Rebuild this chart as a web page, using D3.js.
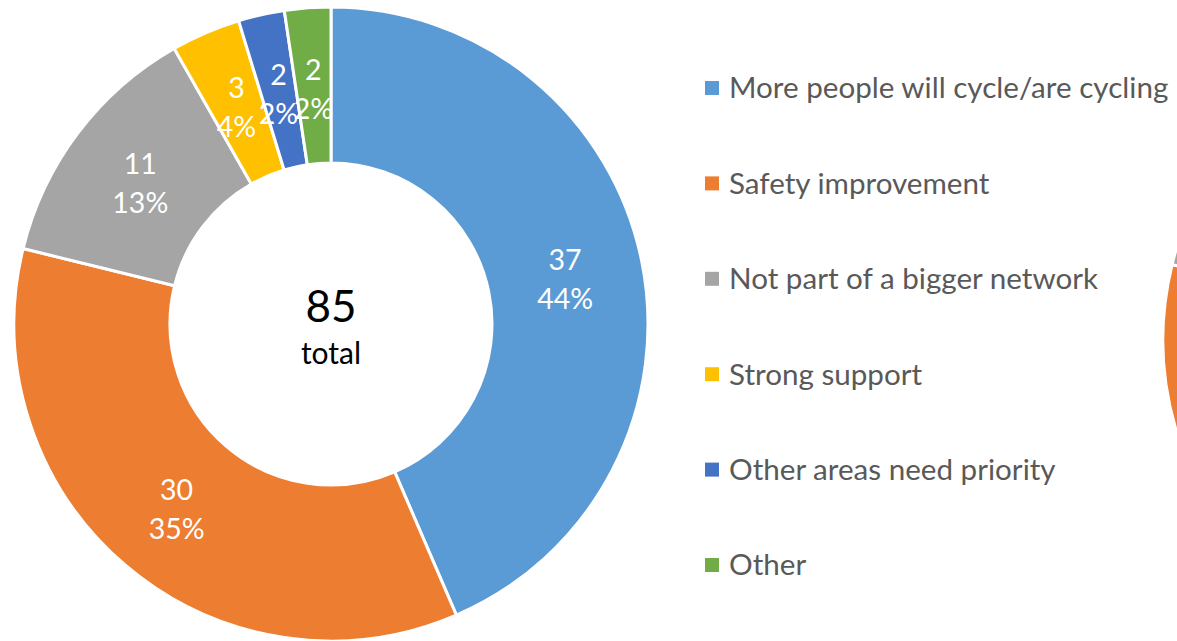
<!DOCTYPE html>
<html>
<head>
<meta charset="utf-8">
<script src="https://cdn.jsdelivr.net/npm/d3@7"></script>
<style>
  html, body { margin: 0; padding: 0; background: #fff; overflow: hidden; }
  svg { display: block; }
  text { font-family: Lato, "Open Sans", "Noto Sans", sans-serif; }
</style>
</head>
<body>
<svg id="chart" width="1177" height="641"></svg>
<script>
const categories = [
  "More people will cycle/are cycling",
  "Safety improvement",
  "Not part of a bigger network",
  "Strong support",
  "Other areas need priority",
  "Other"
];
const values = [37, 30, 11, 3, 2, 2];
const colors = ["#5B9BD5", "#ED7D31", "#A5A5A5", "#FFC000", "#4472C4", "#70AD47"];
const totalLabel = "total";

const W = 1177, H = 641;
const svg = d3.select("#chart");

const total = d3.sum(values);
const cx = 331, cy = 324;
const outerR = 317, innerR = 161;

const pie = d3.pie().sort(null).value(d => d.value);
const data = categories.map((c, i) => ({ category: c, value: values[i], color: colors[i] }));
const arcs = pie(data);
const arc = d3.arc().innerRadius(innerR).outerRadius(outerR);

// Partial second donut at the right edge (cut off by the frame)
const g2 = svg.append("g").attr("transform", `translate(1480,340)`);
g2.selectAll("path").data(arcs).join("path")
  .attr("d", arc)
  .attr("fill", d => d.data.color)
  .attr("stroke", "#fff")
  .attr("stroke-width", 3)
  .attr("stroke-linejoin", "round");

// Main donut
const g = svg.append("g").attr("transform", `translate(${cx},${cy})`);
g.selectAll("path").data(arcs).join("path")
  .attr("d", arc)
  .attr("fill", d => d.data.color)
  .attr("stroke", "#fff")
  .attr("stroke-width", 3)
  .attr("stroke-linejoin", "round");

// Data labels
const fmtPct = v => Math.round(v / total * 100) + "%";
const labels = g.selectAll("g.lbl").data(arcs).join("g")
  .attr("class", "lbl")
  .attr("transform", d => `translate(${arc.centroid(d)})`);
labels.append("text")
  .attr("text-anchor", "middle")
  .attr("y", -16)
  .attr("dy", "0.35em")
  .attr("fill", "#fff")
  .style("font-size", "28.5px")
  .text(d => d.data.value);
labels.append("text")
  .attr("text-anchor", "middle")
  .attr("y", 23)
  .attr("dy", "0.35em")
  .attr("fill", "#fff")
  .style("font-size", "28.5px")
  .text(d => fmtPct(d.data.value));

// Center total
g.append("text")
  .attr("text-anchor", "middle")
  .attr("y", -2)
  .attr("fill", "#000")
  .style("font-size", "44px")
  .text(total);
g.append("text")
  .attr("text-anchor", "middle")
  .attr("y", 40)
  .attr("fill", "#000")
  .style("font-size", "30px")
  .text(totalLabel);

// Legend
const legendY = d3.scalePoint().domain(categories).range([88, 565]);
const legend = svg.append("g").selectAll("g").data(data).join("g")
  .attr("transform", d => `translate(705,${legendY(d.category)})`);
legend.append("rect")
  .attr("x", 0).attr("y", -7)
  .attr("width", 14).attr("height", 14)
  .attr("fill", d => d.color);
legend.append("text")
  .attr("x", 24)
  .attr("dy", "0.35em")
  .attr("fill", "#595959")
  .style("font-size", "29.6px")
  .text(d => d.category);
</script>
</body>
</html>
